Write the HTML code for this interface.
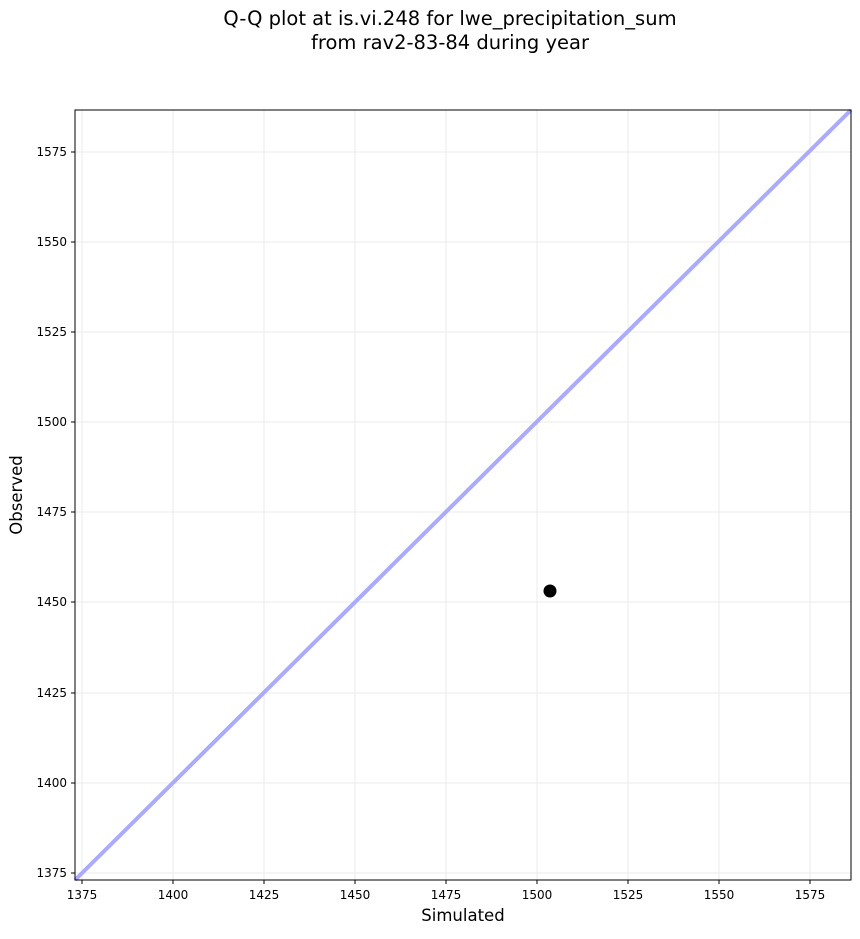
<!DOCTYPE html>
<html><head><meta charset="utf-8"><style>
body{margin:0;background:#fff;}
svg text{font-family:"DejaVu Sans","Liberation Sans",sans-serif;}
</style></head><body>
<svg width="860" height="934" xmlns="http://www.w3.org/2000/svg">
<rect width="860" height="934" fill="#fff"/>
<text x="450" y="25" font-size="19.5" text-anchor="middle">Q-Q plot at is.vi.248 for lwe_precipitation_sum</text>
<text x="450" y="49" font-size="19.5" text-anchor="middle">from rav2-83-84 during year</text>
<g stroke="#ebebeb" stroke-width="1">
<line x1="82" y1="110" x2="82" y2="880"/><line x1="173" y1="110" x2="173" y2="880"/>
<line x1="264" y1="110" x2="264" y2="880"/><line x1="355" y1="110" x2="355" y2="880"/>
<line x1="446" y1="110" x2="446" y2="880"/><line x1="537" y1="110" x2="537" y2="880"/>
<line x1="628" y1="110" x2="628" y2="880"/><line x1="719" y1="110" x2="719" y2="880"/>
<line x1="810" y1="110" x2="810" y2="880"/>
<line x1="75" y1="873" x2="851" y2="873"/><line x1="75" y1="783" x2="851" y2="783"/>
<line x1="75" y1="693" x2="851" y2="693"/><line x1="75" y1="602" x2="851" y2="602"/>
<line x1="75" y1="512" x2="851" y2="512"/><line x1="75" y1="422" x2="851" y2="422"/>
<line x1="75" y1="332" x2="851" y2="332"/><line x1="75" y1="242" x2="851" y2="242"/>
<line x1="75" y1="152" x2="851" y2="152"/>
</g>
<line x1="75" y1="880" x2="851" y2="110" stroke="#aaaaff" stroke-width="4"/>
<circle cx="550" cy="591" r="6.5" fill="#000"/>
<rect x="75" y="110" width="776" height="770" fill="none" stroke="#000" stroke-width="1"/>
<g stroke="#000">
<line x1="82" y1="880" x2="82" y2="884"/><line x1="173" y1="880" x2="173" y2="884"/>
<line x1="264" y1="880" x2="264" y2="884"/><line x1="355" y1="880" x2="355" y2="884"/>
<line x1="446" y1="880" x2="446" y2="884"/><line x1="537" y1="880" x2="537" y2="884"/>
<line x1="628" y1="880" x2="628" y2="884"/><line x1="719" y1="880" x2="719" y2="884"/>
<line x1="810" y1="880" x2="810" y2="884"/>
<line x1="71" y1="873" x2="75" y2="873"/><line x1="71" y1="783" x2="75" y2="783"/>
<line x1="71" y1="693" x2="75" y2="693"/><line x1="71" y1="602" x2="75" y2="602"/>
<line x1="71" y1="512" x2="75" y2="512"/><line x1="71" y1="422" x2="75" y2="422"/>
<line x1="71" y1="332" x2="75" y2="332"/><line x1="71" y1="242" x2="75" y2="242"/>
<line x1="71" y1="152" x2="75" y2="152"/>
</g>
<g font-size="12" text-anchor="middle">
<text x="82" y="899">1375</text><text x="173" y="899">1400</text><text x="264" y="899">1425</text>
<text x="355" y="899">1450</text><text x="446" y="899">1475</text><text x="537" y="899">1500</text>
<text x="628" y="899">1525</text><text x="719" y="899">1550</text><text x="810" y="899">1575</text>
</g>
<g font-size="12" text-anchor="end">
<text x="67" y="877">1375</text><text x="67" y="787">1400</text><text x="67" y="697">1425</text>
<text x="67" y="606">1450</text><text x="67" y="516">1475</text><text x="67" y="426">1500</text>
<text x="67" y="336">1525</text><text x="67" y="246">1550</text><text x="67" y="156">1575</text>
</g>
<text x="463" y="921" font-size="16.5" text-anchor="middle">Simulated</text>
<text x="22" y="495" font-size="16.5" text-anchor="middle" transform="rotate(-90 22 495)">Observed</text>
</svg>
</body></html>
